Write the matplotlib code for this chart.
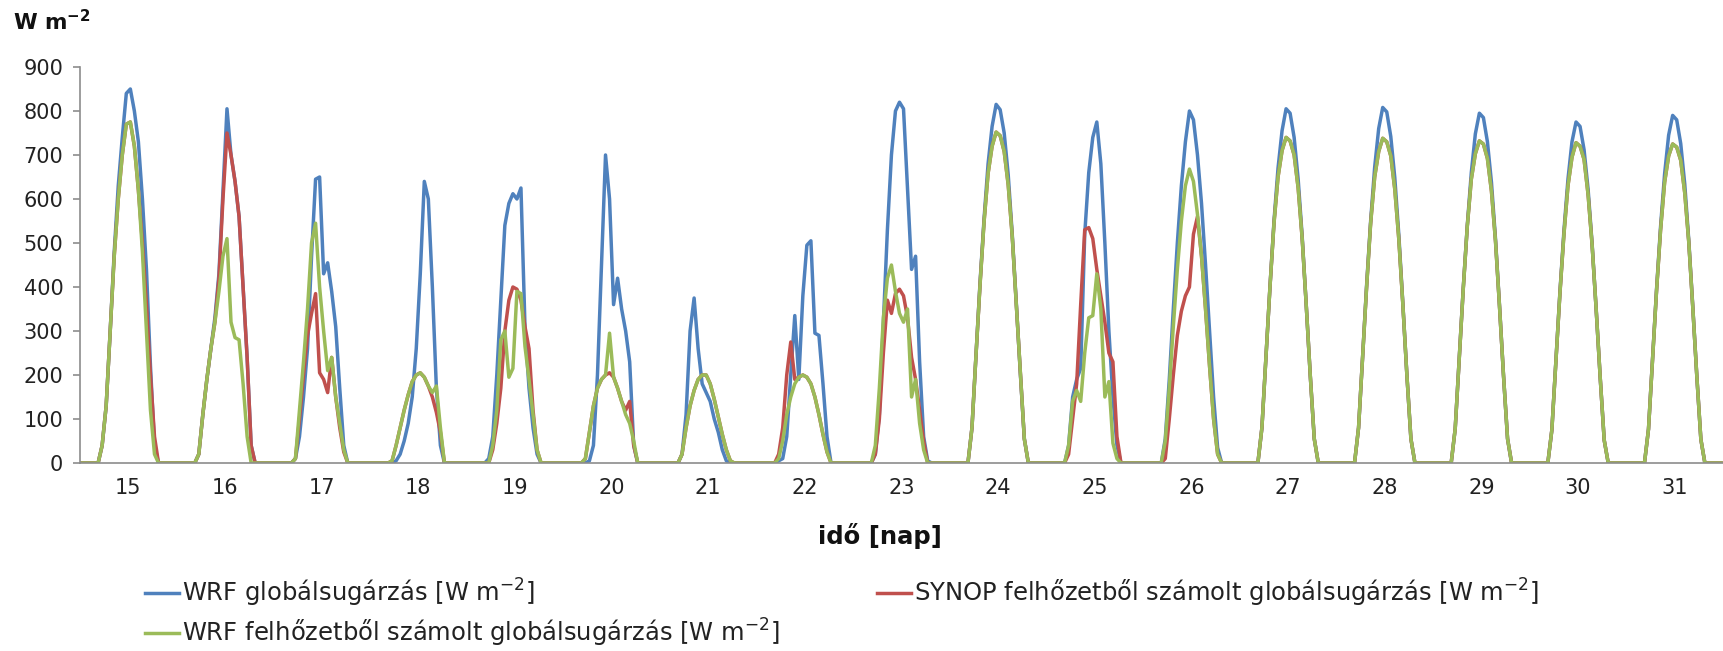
import numpy as np
import matplotlib
matplotlib.use("Agg")
import matplotlib.pyplot as plt
from matplotlib.lines import Line2D

plt.rcParams['font.family'] = ['DejaVu Sans']
plt.rcParams['mathtext.fontset'] = 'dejavusans'

# ---------------- data ----------------
days = [15, 16, 17, 18, 19, 20, 21, 22, 23, 24, 25, 26, 27, 28, 29, 30, 31]
hours = list(range(4, 20))   # hourly values for hours 4..19 of each day (others are 0)

wrf_global = [
    [0, 40, 130, 300, 480, 630, 740, 840, 850, 800, 730, 600, 440, 220, 40, 0],
    [0, 20, 110, 190, 260, 330, 430, 620, 805, 700, 640, 560, 400, 240, 40, 0],
    [0, 10, 60, 150, 260, 470, 645, 650, 430, 455, 390, 310, 170, 40, 0, 0],
    [0, 0, 5, 20, 50, 90, 150, 260, 430, 640, 600, 400, 170, 40, 0, 0],
    [0, 10, 60, 200, 370, 540, 590, 612, 600, 625, 310, 170, 80, 20, 0, 0],
    [0, 0, 5, 40, 200, 450, 700, 600, 360, 420, 350, 300, 230, 40, 0, 0],
    [0, 20, 110, 300, 375, 260, 180, 160, 140, 100, 70, 30, 5, 0, 0, 0],
    [0, 5, 10, 60, 200, 335, 190, 380, 495, 505, 295, 290, 180, 60, 0, 0],
    [0, 20, 110, 320, 530, 700, 800, 820, 805, 620, 440, 470, 230, 60, 5, 0],
    [0, 80, 245, 410, 555, 680, 765, 815, 803, 750, 655, 520, 365, 205, 55, 0],
    [0, 40, 150, 190, 215, 520, 660, 740, 775, 680, 500, 300, 150, 40, 0, 0],
    [0, 55, 190, 350, 500, 630, 730, 800, 780, 700, 590, 450, 300, 150, 35, 0],
    [0, 80, 240, 400, 550, 670, 755, 805, 795, 740, 645, 515, 360, 200, 55, 0],
    [0, 80, 240, 405, 550, 672, 760, 808, 798, 742, 648, 518, 362, 200, 55, 0],
    [0, 78, 238, 398, 540, 660, 748, 795, 785, 730, 638, 510, 358, 198, 55, 0],
    [0, 75, 232, 388, 528, 645, 730, 775, 765, 712, 622, 498, 350, 195, 52, 0],
    [0, 77, 236, 395, 538, 657, 745, 790, 780, 726, 634, 506, 355, 197, 54, 0],
]

synop_cloud = [
    [0, 40, 130, 300, 470, 600, 700, 770, 775, 720, 620, 500, 360, 200, 60, 0],
    [0, 20, 110, 190, 260, 320, 420, 600, 750, 700, 640, 560, 400, 240, 40, 0],
    [0, 10, 100, 200, 290, 340, 385, 205, 190, 160, 240, 150, 80, 25, 0, 0],
    [0, 5, 40, 80, 120, 155, 185, 200, 205, 195, 175, 150, 115, 70, 0, 0],
    [0, 0, 30, 90, 170, 300, 370, 400, 395, 370, 310, 260, 120, 30, 0, 0],
    [0, 10, 70, 130, 170, 190, 200, 205, 195, 170, 140, 120, 140, 40, 0, 0],
    [0, 20, 80, 130, 165, 190, 200, 200, 180, 145, 105, 65, 30, 5, 0, 0],
    [0, 20, 80, 200, 275, 190, 195, 200, 195, 180, 150, 110, 65, 25, 0, 0],
    [0, 20, 100, 250, 370, 340, 385, 395, 380, 330, 240, 190, 120, 50, 0, 0],
    [0, 80, 245, 405, 548, 658, 720, 752, 744, 708, 632, 515, 362, 205, 55, 0],
    [0, 20, 100, 180, 360, 530, 535, 510, 440, 380, 320, 250, 230, 60, 0, 0],
    [0, 10, 100, 200, 290, 345, 380, 400, 520, 560, 470, 350, 220, 100, 20, 0],
    [0, 80, 240, 400, 545, 650, 710, 740, 732, 700, 625, 510, 360, 200, 55, 0],
    [0, 80, 240, 400, 545, 650, 708, 738, 730, 698, 622, 508, 360, 200, 55, 0],
    [0, 78, 238, 396, 538, 645, 703, 732, 725, 692, 618, 505, 356, 198, 55, 0],
    [0, 75, 232, 385, 520, 630, 695, 728, 720, 690, 610, 495, 350, 195, 52, 0],
    [0, 77, 236, 392, 530, 638, 698, 725, 718, 688, 614, 502, 353, 197, 54, 0],
]

wrf_cloud = [
    [0, 40, 130, 300, 470, 600, 700, 770, 775, 720, 620, 480, 300, 120, 20, 0],
    [0, 20, 110, 190, 260, 320, 390, 470, 510, 320, 285, 280, 180, 60, 0, 0],
    [0, 10, 120, 230, 350, 500, 545, 400, 300, 210, 240, 150, 90, 30, 0, 0],
    [0, 5, 40, 80, 120, 155, 185, 200, 205, 195, 175, 160, 175, 80, 0, 0],
    [0, 0, 40, 120, 280, 300, 195, 215, 390, 385, 265, 190, 110, 30, 0, 0],
    [0, 10, 70, 130, 170, 190, 200, 295, 195, 170, 140, 110, 90, 50, 0, 0],
    [0, 20, 80, 130, 165, 190, 200, 200, 180, 145, 105, 65, 30, 5, 0, 0],
    [0, 10, 50, 110, 150, 180, 195, 200, 195, 180, 150, 110, 65, 25, 0, 0],
    [0, 40, 170, 330, 420, 450, 390, 340, 320, 350, 150, 190, 90, 30, 0, 0],
    [0, 80, 245, 405, 548, 658, 720, 752, 744, 708, 632, 515, 362, 205, 55, 0],
    [0, 40, 140, 165, 140, 250, 330, 335, 430, 350, 150, 185, 45, 10, 0, 0],
    [0, 50, 170, 310, 440, 550, 630, 668, 640, 565, 470, 350, 220, 100, 20, 0],
    [0, 80, 240, 400, 545, 650, 710, 740, 732, 700, 625, 510, 360, 200, 55, 0],
    [0, 80, 240, 400, 545, 650, 708, 738, 730, 698, 622, 508, 360, 200, 55, 0],
    [0, 78, 238, 396, 538, 645, 703, 732, 725, 692, 618, 505, 356, 198, 55, 0],
    [0, 75, 232, 385, 520, 630, 695, 728, 720, 690, 610, 495, 350, 195, 52, 0],
    [0, 77, 236, 392, 530, 638, 698, 725, 718, 688, 614, 502, 353, 197, 54, 0],
]

labels = [
    "WRF globálsugárzás [W m$^{-2}$]",
    "SYNOP felhőzetből számolt globálsugárzás [W m$^{-2}$]",
    "WRF felhőzetből számolt globálsugárzás [W m$^{-2}$]",
]
colors = ["#4F81BD", "#C0504D", "#9BBB59"]


def full_series(day_lists):
    y = np.zeros(len(days) * 24)
    for i, vals in enumerate(day_lists):
        for h, v in zip(hours, vals):
            y[i * 24 + h] = v
    return y


x = np.arange(len(days) * 24)

W, H = 1723, 651
fig = plt.figure(figsize=(W / 100, H / 100), dpi=100)
ax = fig.add_axes([80 / W, 1 - 463 / H, 1 - 80 / W, (463 - 67) / H])

for series, c in zip([wrf_global, synop_cloud, wrf_cloud], colors):
    ax.plot(x, full_series(series), color=c, lw=2.5, solid_joinstyle='round')

ax.set_xlim(-0.5, len(days) * 24 - 0.5)
ax.set_ylim(0, 900)
ax.set_yticks(range(0, 901, 100))
ax.set_xticks([i * 24 + 11.5 for i in range(len(days))])
ax.set_xticklabels([str(d) for d in days])

for s in ['top', 'right']:
    ax.spines[s].set_visible(False)
for s in ['left', 'bottom']:
    ax.spines[s].set_color('#8c8c8c')
    ax.spines[s].set_linewidth(1.2)
ax.tick_params(axis='y', direction='out', length=5, width=1.2, color='#8c8c8c',
               labelsize=15, pad=7, labelcolor='#222222')
ax.tick_params(axis='x', length=0, labelsize=15, pad=11, labelcolor='#222222')

# axis titles
fig.text(13 / W, 1 - 22 / H, "W m$^{\\mathbf{-2}}$", fontsize=15.5, fontweight='bold',
         ha='left', va='center', color='#111111')
fig.text(880 / W, 1 - 536 / H, "idő [nap]", fontsize=17.5, fontweight='bold',
         ha='center', va='center', color='#111111')

# legend (manual, Excel-like layout)
legend_pos = [(145, 593), (877, 593), (145, 633)]
for (lx, ly), c, lab in zip(legend_pos, colors, labels):
    fig.add_artist(Line2D([lx / W, (lx + 34) / W], [1 - ly / H, 1 - ly / H],
                          color=c, lw=2.5, transform=fig.transFigure))
    fig.text((lx + 37) / W, 1 - ly / H, lab, fontsize=17.5, ha='left', va='center',
             color='#222222')

fig.savefig("out.png", dpi=100)
